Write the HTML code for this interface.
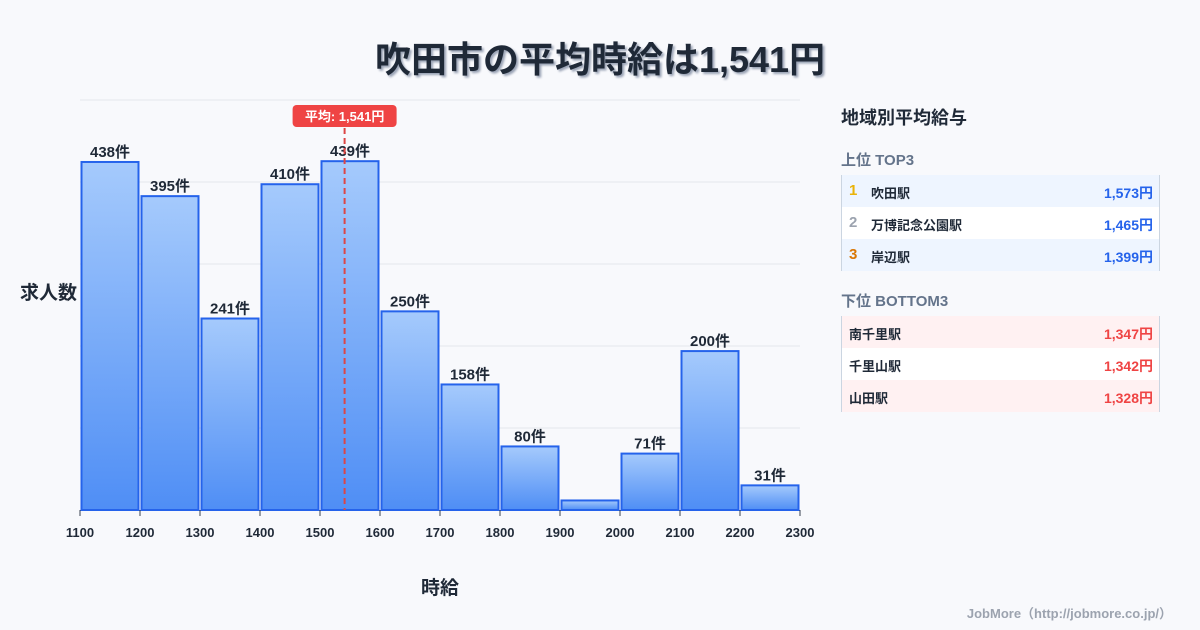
<!DOCTYPE html>
<html><head><meta charset="utf-8"><style>
body{margin:0;width:1200px;height:630px;background:#f8f9fc;font-family:"Liberation Sans","Noto Sans CJK JP",sans-serif;overflow:hidden;position:relative;color:#1f2937}
.abs{position:absolute}
.row{position:absolute;left:841px;width:319px;height:32px;font-size:13px;font-weight:bold;border-left:1px solid #cbd5e1;border-right:1px solid #cbd5e1;box-sizing:border-box}
.row span{position:absolute;top:8px}
.row .n{font-size:15px;top:7px}
.row .v{right:6px;font-size:14px}
</style></head><body>
<div class="abs" style="left:0;width:1200px;top:31px;text-align:center;font-size:36px;font-weight:bold;color:#1f2937;text-shadow:2px 2px 2px #9aa3b5">吹田市の平均時給は1,541円</div>
<svg class="abs" style="left:0;top:0" width="830" height="630">
<defs><linearGradient id="g" x1="0" y1="0" x2="0" y2="1"><stop offset="0" stop-color="#a5cafc"/><stop offset="1" stop-color="#4f8ef5"/></linearGradient></defs>
<g id="grid"></g><g id="bars"></g><g id="ticks"></g>
<text x="440" y="594" text-anchor="middle" font-size="19" font-weight="bold" fill="#1f2937">時給</text>
<text x="20" y="299" font-size="19" font-weight="bold" fill="#1f2937">求人数</text>
</svg>
<div class="abs" style="left:841px;top:104px;font-size:18px;font-weight:bold">地域別平均給与</div>
<div class="abs" style="left:841px;top:149px;font-size:15px;font-weight:bold;color:#64748b">上位 TOP3</div>
<div class="row" style="top:175px;background:#eef5ff"><span class="n" style="left:7px;color:#eab308">1</span><span style="left:29px">吹田駅</span><span class="v" style="color:#2563eb">1,573円</span></div>
<div class="row" style="top:207px;background:#fff"><span class="n" style="left:7px;color:#9ca3af">2</span><span style="left:29px">万博記念公園駅</span><span class="v" style="color:#2563eb">1,465円</span></div>
<div class="row" style="top:239px;background:#eef5ff"><span class="n" style="left:7px;color:#d97706">3</span><span style="left:29px">岸辺駅</span><span class="v" style="color:#2563eb">1,399円</span></div>
<div class="abs" style="left:841px;top:290px;font-size:15px;font-weight:bold;color:#64748b">下位 BOTTOM3</div>
<div class="row" style="top:316px;background:#fff1f2"><span style="left:7px">南千里駅</span><span class="v" style="color:#ef4444">1,347円</span></div>
<div class="row" style="top:348px;background:#fff"><span style="left:7px">千里山駅</span><span class="v" style="color:#ef4444">1,342円</span></div>
<div class="row" style="top:380px;background:#fff1f2"><span style="left:7px">山田駅</span><span class="v" style="color:#ef4444">1,328円</span></div>
<div class="abs" style="right:28px;top:603px;font-size:13px;font-weight:bold;color:#9ca3af">JobMore（http://jobmore.co.jp/）</div>
<script>
const binStarts=[1100,1200,1300,1400,1500,1600,1700,1800,1900,2000,2100,2200];
const counts=[438,395,241,410,439,250,158,80,12,71,200,31];
const xTicks=[1100,1200,1300,1400,1500,1600,1700,1800,1900,2000,2100,2200,2300];
const average=[1541];
const ns="http://www.w3.org/2000/svg";
const X0=80,X1=800,Y0=510,Y1=100,XMIN=1100,XMAX=2300,YMAX=516;
const x=v=>X0+(v-XMIN)/(XMAX-XMIN)*(X1-X0);
const y=v=>Y0-v/YMAX*(Y0-Y1);
function mk(t,a,p){const e=document.createElementNS(ns,t);for(const k in a)e.setAttribute(k,a[k]);p.appendChild(e);return e;}
const grid=document.getElementById('grid'),bars=document.getElementById('bars'),ticks=document.getElementById('ticks');
for(let i=0;i<=5;i++){const gy=Y0-i*(Y0-Y1)/5;const l=mk('line',{x1:X0,x2:X1,y1:gy,y2:gy,stroke:'#e5e7eb','stroke-width':1},grid);

}
const bw=x(XMIN+100)-x(XMIN);
binStarts.forEach((b,i)=>{const r=mk('rect',{x:x(b)+1.5,y:y(counts[i]),width:bw-3,height:Y0-y(counts[i]),fill:'url(#g)',stroke:'#2563eb','stroke-width':2},bars);


if(counts[i]>=20){const t=mk('text',{x:x(b)+bw/2,y:y(counts[i])-5,'text-anchor':'middle','font-size':15,'font-weight':'bold',fill:'#1f2937'},bars);t.textContent=counts[i]+'件';

}});
xTicks.forEach(v=>{mk('line',{x1:x(v),x2:x(v),y1:Y0,y2:Y0+6,stroke:'#374151'},ticks);
const t=mk('text',{x:x(v),y:537,'text-anchor':'middle','font-size':13,'font-weight':'bold',fill:'#1f2937'},ticks);t.textContent=v;

});
const ax=x(average[0]);
const al=mk('line',{x1:ax,x2:ax,y1:128,y2:Y0,stroke:'#dc4646','stroke-width':2,'stroke-dasharray':'6,4'},ticks);


const ab=mk('rect',{x:ax-52,y:105,width:104,height:22,rx:4,fill:'#ef4444'},ticks);


const at=mk('text',{x:ax,y:121,'text-anchor':'middle','font-size':13,'font-weight':'bold',fill:'#fff'},ticks);at.textContent='平均: '+average[0].toLocaleString('en-US')+'円';


</script>
</body></html>
